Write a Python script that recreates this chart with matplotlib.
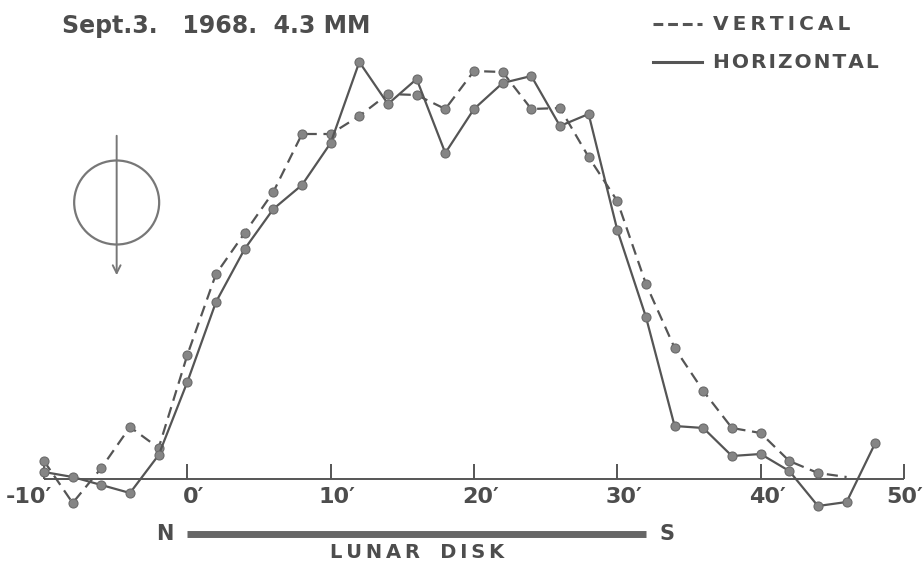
import matplotlib
matplotlib.use('Agg')
import matplotlib.pyplot as plt
from matplotlib.patches import Ellipse
import numpy as np

# arc minutes from the lunar north limb, one scan point every 2'
offset_v = [-10, -8, -6, -4, -2, 0, 2, 4, 6, 8, 10, 12, 14, 16, 18, 20, 22,
            24, 26, 28, 30, 32, 34, 36, 38, 40, 42, 44, 46]
vertical = [18, -24, 11, 52, 31, 124, 205, 246, 287, 345, 345, 363, 385, 384,
            370, 408, 407, 370, 371, 322, 278, 195, 131, 88, 51, 46, 18, 6, 2]

offset_h = [-10, -8, -6, -4, -2, 0, 2, 4, 6, 8, 10, 12, 14, 16, 18, 20, 22,
            24, 26, 28, 30, 32, 34, 36, 38, 40, 42, 44, 46, 48]
horizontal = [7, 2, -6, -14, 24, 97, 177, 230, 270, 294, 336, 417, 375, 400,
              326, 370, 396, 403, 353, 365, 249, 162, 53, 51, 23, 25, 8, -27,
              -23, 36]

tick_vals = [-10, 0, 10, 20, 30, 40, 50]
tick_labels = ["-10\u2032", "0\u2032", "10\u2032", "20\u2032", "30\u2032", "40\u2032", "50\u2032"]

INK = '#4d4d4d'
LINE = '#555555'
DOT = '#858585'
FONT = dict(family='DejaVu Sans', fontweight='bold', color=INK)
THIN = '\u2009'
HAIR = '\u200a'


def spaced(s, gap=THIN):
    # stencil lettering has wide letter spacing
    return gap.join(s)


W, H = 924, 562
fig = plt.figure(figsize=(W / 100, H / 100), dpi=100)
ax = fig.add_axes([0, 0, 1, 1])
ax.set_xlim(-13.07, 51.40)
ax.set_ylim(-83, 479)
ax.axis('off')

# baseline with upward ticks
ax.plot([-10, 50], [0, 0], color=LINE, lw=1.4, solid_capstyle='butt')
ax.vlines(tick_vals, 0, 15, color=LINE, lw=1.4)
for v, lab in zip(tick_vals, tick_labels):
    if v == -10:
        ax.text(v + 0.6, -18, lab, ha='right', va='center', fontsize=16, **FONT)
    elif v == 50:
        ax.text(51.35, -18, lab, ha='right', va='center', fontsize=16, **FONT)
    else:
        ax.text(v + 0.45, -18, lab, ha='center', va='center', fontsize=16, **FONT)

# the two scans
ax.plot(offset_v, vertical, color=LINE, lw=1.6, dashes=(5, 3),
        marker='o', ms=6.5, mfc=DOT, mec='#6a6a6a', mew=0.8,
        markevery=list(range(len(offset_v) - 1)))
ax.plot(offset_h, horizontal, color=LINE, lw=1.6,
        marker='o', ms=6.5, mfc=DOT, mec='#6a6a6a', mew=0.8)

# beam / polarisation symbol
ax.add_patch(Ellipse((-4.93, 276.5), 85 / 14.333, 84, fill=False,
                     ec='#777777', lw=1.6))
ax.annotate('', xy=(-4.93, 201), xytext=(-4.93, 346),
            arrowprops=dict(arrowstyle='->', color='#777777', lw=1.4,
                            mutation_scale=14))

# lunar disk bar
ax.plot([0, 32], [-55, -55], color='#666666', lw=5, solid_capstyle='butt')
ax.text(-1.56, -55, 'N', ha='center', va='center', fontsize=15, **FONT)
ax.text(33.5, -55, 'S', ha='center', va='center', fontsize=15, **FONT)
ax.text(16.0, -73, spaced('LUNAR') + '   ' + spaced('DISK'), ha='center',
        va='center', fontsize=14, **FONT)

# title
fig.text(62 / W, 1 - 33 / H, 'Sept.3.   1968.  4.3 MM', ha='left',
         va='baseline', fontsize=17, **FONT)

# legend drawn by hand
fig.add_artist(plt.Line2D([653 / W, 702 / W], [1 - 24 / H, 1 - 24 / H],
                          color=LINE, lw=2.2, dashes=(3.2, 1.6)))
fig.add_artist(plt.Line2D([653 / W, 702 / W], [1 - 62 / H, 1 - 62 / H],
                          color=LINE, lw=2.2))
fig.text(713 / W, 1 - 24 / H, spaced('VERTICAL'), ha='left', va='center',
         fontsize=14.5, **FONT)
fig.text(713 / W, 1 - 62 / H, spaced('HORIZONTAL', HAIR), ha='left',
         va='center', fontsize=14.5, **FONT)

fig.savefig('out.png', dpi=100, facecolor='white')
